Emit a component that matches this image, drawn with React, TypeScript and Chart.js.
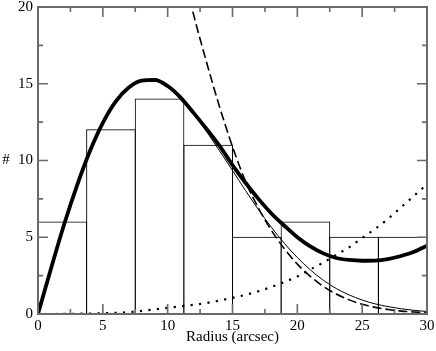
import { useEffect, useRef } from 'react';
import { Chart, registerables } from 'chart.js';

Chart.register(...registerables);

// Histogram bins (centres, width 3.75 arcsec) and counts
const binCenters = [1.875, 5.625, 9.375, 13.125, 16.875, 20.625, 24.375, 28.125];
const binCounts = [6, 12, 14, 11, 5, 6, 5, 5];

// Curves sampled at 1 arcsec
const curveX = [0, 1, 2, 3, 4, 5, 6, 7, 8, 9, 10, 11, 12, 13, 14, 15, 16, 17, 18, 19, 20, 21, 22, 23, 24, 25, 26, 27, 28, 29, 30];
const thickY = [0, 2.95, 5.8, 8.35, 10.6, 12.45, 13.85, 14.75, 15.2, 15.25, 14.85, 14.1, 13.1, 12.05, 10.95, 9.7, 8.55, 7.5, 6.55, 5.75, 5.0, 4.4, 3.95, 3.65, 3.52, 3.47, 3.48, 3.58, 3.78, 4.05, 4.45];
const thinY = [0, 2.93, 5.74, 8.32, 10.56, 12.41, 13.8, 14.71, 15.16, 15.16, 14.76, 14.05, 13.07, 11.89, 10.63, 9.35, 8.05, 6.8, 5.65, 4.6, 3.68, 2.88, 2.2, 1.66, 1.24, 0.91, 0.66, 0.48, 0.34, 0.24, 0.16];
const dottedY = [0, 0, 0.01, 0.02, 0.03, 0.05, 0.08, 0.12, 0.2, 0.3, 0.4, 0.5, 0.6, 0.72, 0.88, 1.05, 1.25, 1.48, 1.76, 2.08, 2.45, 2.9, 3.35, 3.85, 4.35, 4.95, 5.55, 6.2, 6.95, 7.7, 8.45];
const dashX = [11, 12, 13, 14, 15, 16, 17, 18, 19, 20, 21, 22, 23, 24, 25, 26, 27, 28, 29, 30];
const dashY = [23.0, 19.5, 16.4, 13.5, 10.9, 8.65, 6.9, 5.45, 4.25, 3.25, 2.45, 1.8, 1.3, 0.92, 0.63, 0.43, 0.29, 0.19, 0.13, 0.08];

// Axis ticks
const xMajorTicks = [0, 5, 10, 15, 20, 25, 30];
const xMinorTicks = [2.5, 7.5, 12.5, 17.5, 22.5, 27.5];
const yMajorTicks = [0, 5, 10, 15, 20];
const yMinorTicks = [2.5, 7.5, 12.5, 17.5];

const xTitle = 'Radius (arcsec)';
const yTitle = '#';

const FONT = "'Liberation Serif', 'Times New Roman', serif";
const FRAME = '#6a6a6a';

const pts = (xs: number[], ys: number[]) => xs.map((x, i) => ({ x, y: ys[i] }));

const frameTicks = {
  id: 'frameTicks',
  afterDatasetsDraw(chart: any) {
    const { ctx, chartArea, scales } = chart;
    const { left, right, top, bottom } = chartArea;
    const xs = scales.x;
    const ys = scales.y;
    ctx.save();
    ctx.strokeStyle = FRAME;
    ctx.lineWidth = 2;
    ctx.strokeRect(left, top, right - left, bottom - top);
    ctx.lineWidth = 1.6;
    const major = 10;
    const minor = 5;
    ctx.beginPath();
    const xt = (v: number, len: number) => {
      const p = xs.getPixelForValue(v);
      ctx.moveTo(p, bottom);
      ctx.lineTo(p, bottom - len);
      ctx.moveTo(p, top);
      ctx.lineTo(p, top + len);
    };
    const yt = (v: number, len: number) => {
      const p = ys.getPixelForValue(v);
      ctx.moveTo(left, p);
      ctx.lineTo(left + len, p);
      ctx.moveTo(right, p);
      ctx.lineTo(right - len, p);
    };
    xMajorTicks.forEach((v) => xt(v, major));
    xMinorTicks.forEach((v) => xt(v, minor));
    yMajorTicks.forEach((v) => yt(v, major));
    yMinorTicks.forEach((v) => yt(v, minor));
    ctx.stroke();
    // y-axis title, upright
    ctx.fillStyle = '#000';
    ctx.font = `15px ${FONT}`;
    ctx.textAlign = 'center';
    ctx.textBaseline = 'middle';
    ctx.fillText(yTitle, 6, (top + bottom) / 2);
    ctx.restore();
  },
};

export default function App() {
  const ref = useRef<HTMLCanvasElement>(null);
  useEffect(() => {
    const chart = new Chart(ref.current as HTMLCanvasElement, {
      type: 'line',
      data: {
        datasets: [
          {
            label: 'fit',
            data: pts(curveX, thickY),
            borderColor: '#000',
            borderWidth: 3.8,
            pointRadius: 0,
            fill: false,
            cubicInterpolationMode: 'monotone',
          },
          {
            label: 'model',
            data: pts(curveX, thinY),
            borderColor: '#000',
            borderWidth: 1,
            pointRadius: 0,
            fill: false,
            cubicInterpolationMode: 'monotone',
          },
          {
            label: 'dashed',
            data: pts(dashX, dashY),
            borderColor: '#000',
            borderWidth: 1.6,
            borderDash: [9, 4],
            pointRadius: 0,
            fill: false,
            cubicInterpolationMode: 'monotone',
          },
          {
            label: 'dotted',
            data: pts(curveX, dottedY),
            borderColor: '#000',
            borderWidth: 2.2,
            borderDash: [2.2, 6.3],
            pointRadius: 0,
            fill: false,
            cubicInterpolationMode: 'monotone',
          },
          {
            type: 'bar',
            label: 'counts',
            data: pts(binCenters, binCounts),
            backgroundColor: 'rgba(0,0,0,0)',
            borderColor: '#000',
            borderWidth: { top: 0.01, left: 0.01, right: 0.01, bottom: 0 },
            inflateAmount: 0.495,
            barPercentage: 1,
            categoryPercentage: 1,
            clip: false,
          } as any,
        ],
      },
      options: {
        animation: false,
        responsive: false,
        devicePixelRatio: 1,
        layout: { padding: { top: 7, right: 9, left: 0, bottom: 0 } },
        plugins: { legend: { display: false }, tooltip: { enabled: false } },
        scales: {
          x: {
            type: 'linear',
            min: 0,
            max: 30,
            offset: false,
            grid: { display: false, drawTicks: false },
            border: { display: false },
            ticks: {
              stepSize: 5,
              padding: 3,
              color: '#000',
              maxRotation: 0,
              font: { family: FONT, size: 15 },
            },
            title: {
              display: true,
              text: xTitle,
              color: '#000',
              font: { family: FONT, size: 15 },
              padding: { top: 0, bottom: 4.5 },
            },
            afterFit: (s: any) => {
              s.height = 37;
              s.paddingLeft = 0;
              s.paddingRight = 0;
            },
          },
          y: {
            type: 'linear',
            min: 0,
            max: 20,
            grid: { display: false, drawTicks: false },
            border: { display: false },
            ticks: {
              stepSize: 5,
              padding: 5,
              color: '#000',
              font: { family: FONT, size: 15 },
            },
            afterFit: (s: any) => {
              s.width = 38;
              s.paddingTop = 0;
              s.paddingBottom = 0;
            },
          },
        },
      },
      plugins: [frameTicks],
    } as any);
    return () => chart.destroy();
  }, []);
  return (
    <div style={{ position: 'fixed', left: 0, top: 0, width: 436, height: 351, background: '#fff' }}>
      <canvas ref={ref} width={436} height={351} style={{ display: 'block' }} />
    </div>
  );
}
